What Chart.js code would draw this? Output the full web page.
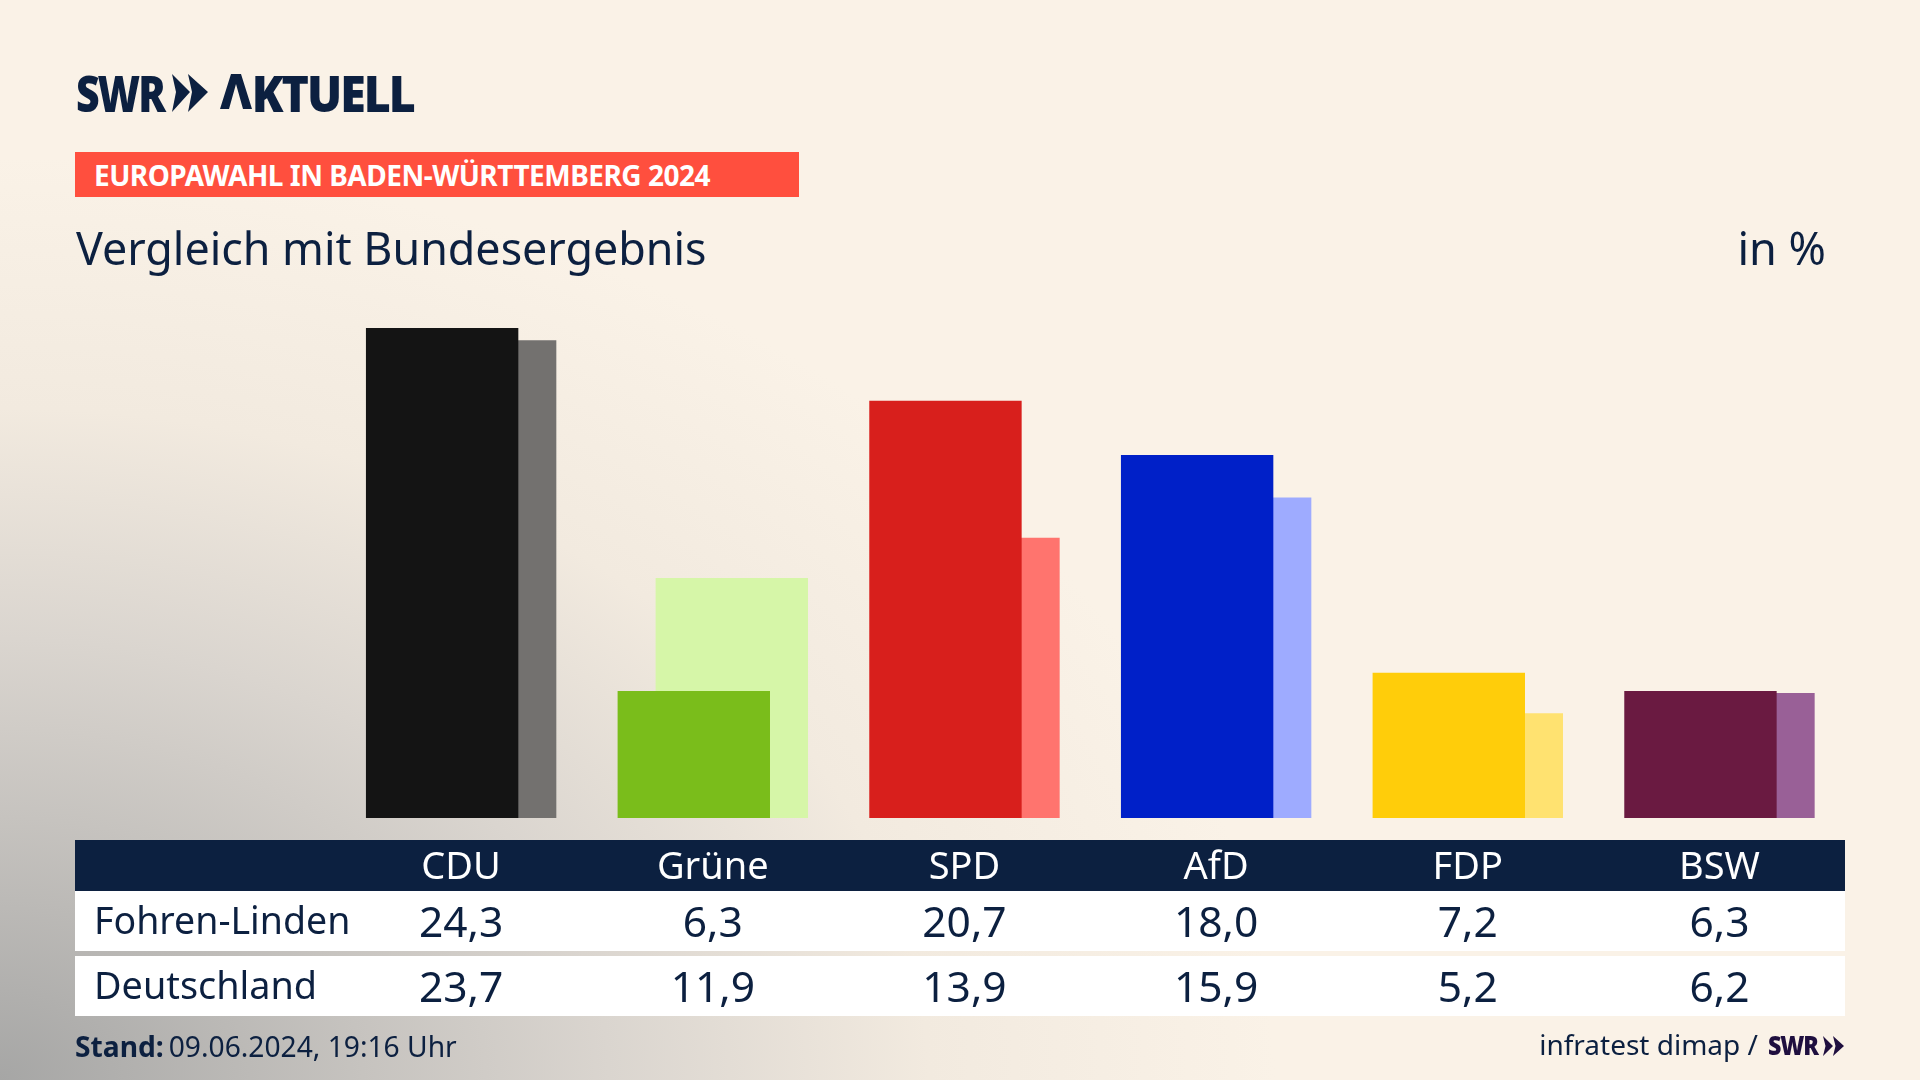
<!DOCTYPE html>
<html lang="de"><head><meta charset="utf-8">
<script src="https://cdn.jsdelivr.net/npm/chart.js@4"></script>
<style>
html,body{margin:0;padding:0;width:1920px;height:1080px;overflow:hidden}
body{position:relative;font-family:"Noto Sans",sans-serif;color:#0c2040;
background:radial-gradient(ellipse 1450px 1050px at 0px 1080px,#a6a6a5 0%,#c6c3bf 25%,#dad5cf 42%,#f2eadf 64%,#faf2e7 88%),#faf2e7}
#c{position:absolute;left:0;top:0}
.t{position:absolute;white-space:nowrap;line-height:1}
.band{position:absolute;left:75px;width:1770px}
.cell{position:absolute;transform:translateX(-50%);white-space:nowrap;line-height:1;letter-spacing:0}
svg{position:absolute}
</style></head><body>
<canvas id="c" width="1920" height="1080"></canvas>
<div class="t" style="left:76px;top:58.5px;font:800 50px 'Open Sans';letter-spacing:-2.5px;transform:scaleX(.82);transform-origin:0 0">SWR</div>
<svg style="left:170px;top:72px" width="40" height="42" viewBox="0 0 40 42"><g fill="#0c2040"><polygon points="2,2 20,20 2,40 6,20"/><polygon points="18,2 38,20 18,40 22,20"/></g></svg>
<div class="t" style="left:220px;top:58.5px;font:800 50px 'Open Sans';letter-spacing:-2.2px;transform:scaleX(.93);transform-origin:0 0"><span style="color:transparent">A</span>KTUELL</div>
<svg style="left:218px;top:72px" width="38" height="39" viewBox="0 0 38 39"><polygon fill="#0c2040" points="2,37 13,2 23,2 34,37 25,37 18,12 11,37"/></svg>
<div class="band" style="top:152px;height:45px;width:724px;background:#ff4f3e"></div>
<div class="t" style="left:94px;top:156px;font:700 28px 'Noto Sans';color:#fff;letter-spacing:-.5px">EUROPAWAHL IN BADEN-WÜRTTEMBERG 2024</div>
<div class="t" style="left:76px;top:217px;font:400 44.8px 'Noto Sans'">Vergleich mit Bundesergebnis</div>
<div class="t" style="right:94px;top:217px;font:400 45px 'Noto Sans'">in %</div>
<div class="band" style="top:840px;height:51px;background:#0c2040"></div>
<div class="band" style="top:891px;height:60px;background:#fff"></div>
<div class="band" style="top:956px;height:60px;background:#fff"></div>
<div id="rows"></div>
<div class="t" style="left:75px;top:1027px;font:400 28.2px 'Noto Sans'"><b>Stand:</b><span style="margin-left:5px">09.06.2024, 19:16 Uhr</span></div>
<div class="t" style="right:162px;top:1025px;font:400 28px 'Noto Sans'">infratest dimap /</div>
<div class="t" style="left:1768px;top:1026px;font:800 27px 'Open Sans';letter-spacing:-1.3px;color:#1f0f3f;transform:scaleX(.86);transform-origin:0 0">SWR</div>
<svg style="left:1822px;top:1035px" width="24" height="22" viewBox="0 0 24 22"><g fill="#1f0f3f"><polygon points="1,1 11,11 1,21 3.5,11"/><polygon points="11,1 22,11 11,21 13.5,11"/></g></svg>
<script>
const categories=["CDU","Grüne","SPD","AfD","FDP","BSW"];
const rowNames=["Fohren-Linden","Deutschland"];
const fohrenLinden=[24.3,6.3,20.7,18.0,7.2,6.3];
const deutschland=[23.7,11.9,13.9,15.9,5.2,6.2];
const darkColors=["#141414","#7abd1b","#d81f1c","#0020c8","#ffcd0a","#6a1a41"];
const lightColors=["#73716f","#d6f6a8","#ff746e","#9eabff","#ffe270","#996097"];

new Chart(document.getElementById("c"),{
  type:"bar",
  data:{labels:categories,datasets:[
    {label:rowNames[0],data:fohrenLinden,backgroundColor:darkColors},
    {label:rowNames[1],data:deutschland,backgroundColor:lightColors}
  ]},
  options:{
    responsive:false,animation:false,devicePixelRatio:1,
    layout:{padding:{left:335.3,right:74.7,top:314,bottom:262}},
    datasets:{bar:{categoryPercentage:0.302,barPercentage:4.01,borderWidth:0}},
    plugins:{legend:{display:false},tooltip:{enabled:false},title:{display:false}},
    scales:{
      x:{display:false,grid:{display:false}},
      y:{display:false,min:0,max:25,grid:{display:false}}
    }
  },
  plugins:[{id:"tableText",afterRender(chart){
    if(window.__done)return;window.__done=true;
    const xs=chart.scales.x, host=document.getElementById("rows");
    const add=(txt,x,y,size,color,cls)=>{const d=document.createElement("div");d.className=cls||"cell";
      d.textContent=txt;d.style.cssText+=`left:${x}px;top:${y}px;font-size:${size}px;color:${color}`;host.appendChild(d);};
    const fmt=v=>v.toFixed(1).replace(".",",");
    categories.forEach((c,i)=>{
      const x=xs.getPixelForValue(i);
      add(c,x,845,38,"#fff");
      add(fmt(fohrenLinden[i]),x,900,42.5,"#0c2040");
      add(fmt(deutschland[i]),x,965,42.5,"#0c2040");
    });
    add(rowNames[0],94,901,37.5,"#0c2040","t");
    add(rowNames[1],94,966,37.8,"#0c2040","t");
  }}]
});
</script>
</body></html>
